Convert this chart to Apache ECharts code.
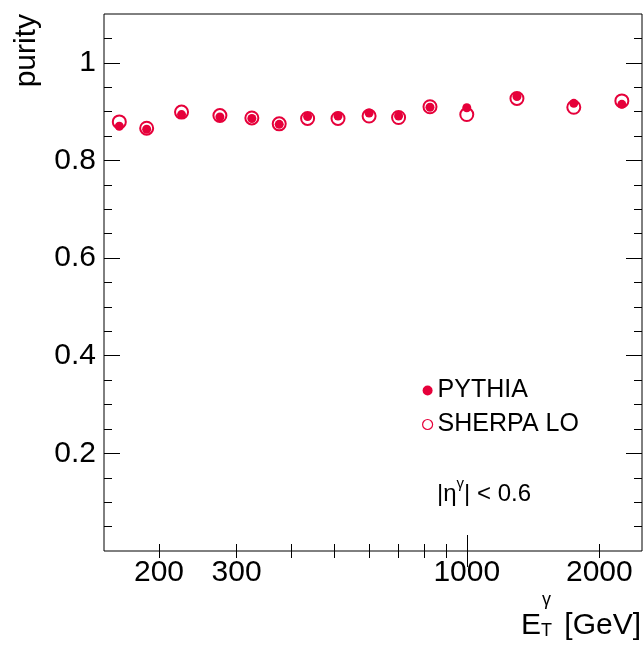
<!DOCTYPE html>
<html>
<head>
<meta charset="utf-8">
<script src="https://cdn.jsdelivr.net/npm/echarts@6/dist/echarts.min.js"></script>
<style>html,body{margin:0;padding:0;background:#fff}#c{width:643px;height:646px}</style>
</head>
<body>
<div id="c"></div>
<script>
// Data
var etBins = [162.5, 187.5, 225, 275, 325, 375, 435, 510, 600, 700, 825, 1000, 1300, 1750, 2250];
var pythia = [0.870, 0.864, 0.894, 0.889, 0.886, 0.874, 0.890, 0.891, 0.897, 0.891, 0.909, 0.908, 0.931, 0.917, 0.915];
var sherpa = [0.879, 0.866, 0.899, 0.892, 0.887, 0.875, 0.886, 0.886, 0.891, 0.888, 0.910, 0.894, 0.927, 0.909, 0.922];
var xLabelTicks = [200, 300, 1000, 2000];
var xMinorTicks = [200, 300, 400, 500, 600, 700, 800, 900, 2000];
var xMajorTicks = [1000];
var yMajorTicks = [0.2, 0.4, 0.6, 0.8, 1];
var yMinorTicks = [0.05, 0.1, 0.15, 0.25, 0.3, 0.35, 0.45, 0.5, 0.55, 0.65, 0.7, 0.75, 0.85, 0.9, 0.95, 1.05];

var FONT = "'Liberation Sans', Arial, Helvetica, sans-serif";
var RED = '#e6003a';

function zip(xs, ys) { return xs.map(function (x, i) { return [x, ys[i]]; }); }

function xAx(pos, ticks, len, labels) {
  return {
    type: 'log', logBase: 10, min: 150, max: 2500, position: pos, gridIndex: 0,
    axisLine: { show: false },
    splitLine: { show: false },
    axisTick: { show: true, inside: true, length: len, customValues: ticks, lineStyle: { color: '#000', width: 1 } },
    axisLabel: labels ? { show: true, customValues: xLabelTicks, fontSize: 30, fontFamily: FONT, color: '#000', margin: 7,
      formatter: function (v) { return String(Math.round(v)); } } : { show: false }
  };
}
function yAx(pos, ticks, len, labels) {
  return {
    type: 'value', min: 0, max: 1.1, position: pos, gridIndex: 0,
    axisLine: { show: false },
    splitLine: { show: false },
    axisTick: { show: true, inside: true, length: len, customValues: ticks, lineStyle: { color: '#000', width: 1 } },
    axisLabel: labels ? { show: true, customValues: yMajorTicks, fontSize: 30, fontFamily: FONT, color: '#000', margin: 8,
      formatter: function (v) { return String(Math.round(v * 10) / 10); } } : { show: false }
  };
}

var chart = echarts.init(document.getElementById('c'), null, { renderer: 'canvas' });
chart.setOption({
  animation: false,
  backgroundColor: '#fff',
  grid: { left: 104, right: 1, top: 14, bottom: 95, show: true, borderColor: '#000', borderWidth: 1, backgroundColor: 'transparent' },
  xAxis: [
    xAx('bottom', xMinorTicks, 7, true),
    xAx('bottom', xMajorTicks, 16, false),
    xAx('top', xMinorTicks, 7, false),
    xAx('top', xMajorTicks, 16, false)
  ],
  yAxis: [
    yAx('left', yMajorTicks, 16, true),
    yAx('left', yMinorTicks, 8, false),
    yAx('right', yMajorTicks, 16, false),
    yAx('right', yMinorTicks, 8, false)
  ],
  legend: {
    orient: 'vertical', left: 417, top: 373, itemWidth: 10, itemHeight: 10, itemGap: 9,
    textStyle: { fontSize: 25, fontFamily: FONT, color: '#000', padding: [0, 0, 0, 0] },
    data: [
      { name: 'PYTHIA', icon: 'circle', itemStyle: { color: RED, borderWidth: 0, opacity: 1 } },
      { name: 'SHERPA LO', icon: 'circle', itemStyle: { color: '#fff', borderColor: RED, borderWidth: 1.2, opacity: 1 } }
    ]
  },
  series: [
    {
      name: 'SHERPA LO', type: 'scatter', xAxisIndex: 0, yAxisIndex: 0, z: 2,
      symbol: 'emptyCircle', symbolSize: 13,
      itemStyle: { color: RED, borderColor: RED, borderWidth: 1.5, opacity: 1 },
      data: zip(etBins, sherpa)
    },
    {
      name: 'PYTHIA', type: 'scatter', xAxisIndex: 0, yAxisIndex: 0, z: 3,
      symbol: 'circle', symbolSize: 9,
      itemStyle: { color: RED, opacity: 1 },
      data: zip(etBins, pythia)
    }
  ],
  graphic: [
    { type: 'text', x: 27, y: 14, rotation: Math.PI / 2,
      style: { text: 'purity', font: '30px ' + FONT, fill: '#000', textAlign: 'right', textVerticalAlign: 'middle' } },
    { type: 'text', x: 641, y: 626,
      style: { text: '[GeV]', font: '30px ' + FONT, fill: '#000', textAlign: 'right', textVerticalAlign: 'middle' } },
    { type: 'text', x: 521, y: 626,
      style: { text: 'E', font: '30px ' + FONT, fill: '#000', textAlign: 'left', textVerticalAlign: 'middle' } },
    { type: 'text', x: 542, y: 600,
      style: { text: 'γ', font: '18px ' + FONT, fill: '#000', textAlign: 'left', textVerticalAlign: 'middle' } },
    { type: 'text', x: 541, y: 631,
      style: { text: 'T', font: '18px ' + FONT, fill: '#000', textAlign: 'left', textVerticalAlign: 'middle' } },
    { type: 'text', x: 437, y: 491,
      style: {
        text: '{n||η}{s|γ}{n|| < 0.6}', textAlign: 'left', textVerticalAlign: 'middle',
        rich: {
          n: { font: '24px ' + FONT, fill: '#000', verticalAlign: 'bottom', lineHeight: 30 },
          s: { font: '15px ' + FONT, fill: '#000', verticalAlign: 'top', lineHeight: 30 }
        }
      } }
  ]
});
</script>
</body>
</html>
